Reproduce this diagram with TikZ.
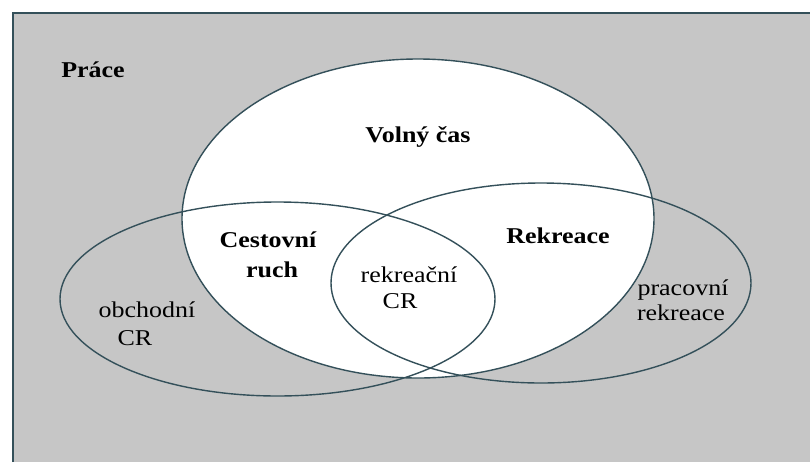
\documentclass[tikz,border=0pt]{standalone}
\usepackage{fontspec}
\setmainfont{Liberation Serif}[FakeStretch=1.15]
\definecolor{bggray}{HTML}{C6C6C6}
\definecolor{linecol}{HTML}{34505A}
\begin{document}
\begin{tikzpicture}[x=0.5pt,y=-0.5pt,
  lbl/.style={anchor=base,inner sep=0pt,font=\fontsize{11.3}{14}\selectfont,text=black},
  blbl/.style={lbl,font=\fontsize{11.3}{14}\selectfont\bfseries},
  outline/.style={draw=linecol,line width=0.7pt}]
\useasboundingbox (0,0) rectangle (810,462);
% background
\fill[white] (0,0) rectangle (810,462);
\fill[bggray] (13,13) rectangle (810,462);
% free time (white)
\coordinate (vc) at (418,218.5);
\coordinate (cr) at (277.5,299);
\coordinate (rk) at (541,283);
\fill[white] (vc) ellipse [x radius=118pt, y radius=79.75pt];
\draw[outline] (vc) ellipse [x radius=118pt, y radius=79.75pt];
\draw[outline] (cr) ellipse [x radius=108.75pt, y radius=48.5pt];
\draw[outline] (rk) ellipse [x radius=105pt, y radius=50pt];
% frame
\coordinate (tl) at (13,13);
\coordinate (tr) at (810,13);
\coordinate (bl) at (13,462);
\draw[linecol,line width=1.3pt] (bl) -- (tl) -- (tr);
% labels
\node[blbl] (prace) at (93,77) {Práce};
\node[blbl] (volny) at (418,142) {Volný čas};
\node[blbl] (cest1) at (268,247) {Cestovní};
\node[blbl] (cest2) at (272,277) {ruch};
\node[blbl] (rekr) at (558,243) {Rekreace};
\node[lbl] (obch1) at (147,317) {obchodní};
\node[lbl] (obch2) at (135,345) {CR};
\node[lbl] (rcr1) at (409,282) {rekreační};
\node[lbl] (rcr2) at (400,308) {CR};
\node[lbl] (prac1) at (683,295) {pracovní};
\node[lbl] (prac2) at (681,320) {rekreace};
\end{tikzpicture}
\end{document}
